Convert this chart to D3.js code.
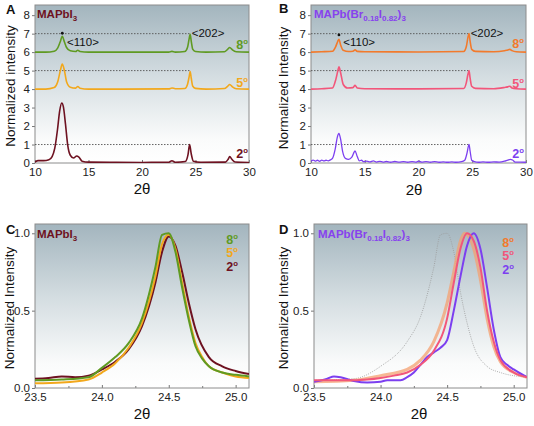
<!DOCTYPE html>
<html><head><meta charset="utf-8">
<script src="https://cdn.jsdelivr.net/npm/d3@7"></script>
<style>body{margin:0;background:#fff}svg{display:block}text{font-family:"Liberation Sans",Arial,sans-serif}</style>
</head><body><svg id="c" width="534" height="426"></svg>
<script>
// ---------- DATA ----------
const wideTicksX = [10, 15, 20, 25, 30];
const wideTicksY = [0, 1, 2, 3, 4, 5, 6, 7, 8];
const zoomTicksX = [23.5, 24.0, 24.5, 25.0];
const zoomTicksY = [0, 0.5, 1.0];
const degLabels = ["8", "5", "2"];

// Panel A: MAPbI3, offset XRD patterns
const A_8 = [[10,6.0],[11,6.0],[11.8,6.05],[12.1,6.2],[12.35,6.55],[12.55,6.85],[12.75,6.55],[12.95,6.25],[13.3,6.07],[13.8,6.03],[14.0,6.1],[14.2,6.03],[15,6.0],[18,6.0],[22.5,6.0],[22.8,6.04],[23.1,6.0],[24.0,6.03],[24.25,6.25],[24.4,6.7],[24.5,6.97],[24.6,6.6],[24.75,6.15],[25.0,6.03],[26,6.0],[27.7,6.02],[28.0,6.15],[28.2,6.25],[28.45,6.12],[28.8,6.02],[30,6.0]];
const A_5 = [[10,4.0],[11,4.0],[11.8,4.08],[12.1,4.35],[12.35,4.95],[12.55,5.35],[12.75,5.0],[12.95,4.4],[13.3,4.1],[13.8,4.05],[14.0,4.14],[14.2,4.05],[15,4.0],[18,4.0],[22.5,4.01],[22.8,4.06],[23.1,4.02],[24.0,4.03],[24.25,4.25],[24.4,4.65],[24.5,4.95],[24.6,4.6],[24.75,4.15],[25.0,4.04],[26,4.0],[27.7,4.03],[28.0,4.15],[28.2,4.25],[28.45,4.12],[28.8,4.02],[30,4.0]];
const A_2 = [[10,0.05],[10.3,0.13],[10.8,0.13],[11.3,0.18],[11.6,0.35],[11.85,0.8],[12.1,1.8],[12.3,2.8],[12.5,3.25],[12.65,3.05],[12.85,2.1],[13.05,1.0],[13.3,0.42],[13.6,0.27],[13.9,0.38],[14.1,0.32],[14.4,0.1],[15,0.05],[17,0.04],[20,0.03],[22.5,0.04],[22.8,0.12],[23.1,0.04],[24.05,0.08],[24.3,0.45],[24.45,1.0],[24.6,0.5],[24.8,0.1],[25.5,0.04],[27.8,0.05],[28.05,0.2],[28.2,0.35],[28.4,0.2],[28.7,0.05],[30,0.03]];

// Panel B: MAPb(Br0.18I0.82)3
const B_8 = [[10,6.0],[11,6.02],[12.0,6.05],[12.3,6.3],[12.5,6.6],[12.6,6.7],[12.75,6.4],[13.0,6.1],[13.5,6.03],[13.9,6.05],[14.1,6.12],[14.3,6.04],[15,6.02],[20,6.01],[24.2,6.03],[24.45,6.3],[24.6,6.8],[24.7,7.0],[24.8,6.6],[24.95,6.15],[25.3,6.04],[27,6.02],[28.0,6.07],[28.3,6.12],[28.5,6.15],[28.7,6.08],[29.1,6.02],[30,6.0]];
const B_5 = [[10,4.0],[11,4.02],[12.0,4.06],[12.3,4.5],[12.5,5.0],[12.6,5.2],[12.75,4.9],[13.0,4.25],[13.4,4.06],[13.9,4.08],[14.1,4.2],[14.3,4.06],[15,4.02],[20,4.01],[24.2,4.03],[24.45,4.35],[24.6,4.8],[24.7,5.0],[24.8,4.6],[24.95,4.15],[25.3,4.04],[27,4.02],[28.1,4.1],[28.3,4.12],[28.5,4.15],[28.7,4.06],[29.1,4.02],[30,4.0]];
const B_2 = [[10,0.1],[10.2,0.16],[10.4,0.1],[10.6,0.15],[10.8,0.09],[11.0,0.16],[11.2,0.11],[11.4,0.15],[11.6,0.12],[11.8,0.17],[12.0,0.25],[12.25,0.75],[12.45,1.4],[12.6,1.6],[12.75,1.3],[12.95,0.6],[13.2,0.25],[13.5,0.2],[13.8,0.32],[14.1,0.65],[14.3,0.35],[14.5,0.12],[14.7,0.15],[14.9,0.07],[15.2,0.1],[15.5,0.06],[15.8,0.11],[16.1,0.05],[16.4,0.09],[16.7,0.05],[17,0.08],[17.4,0.04],[17.8,0.08],[18.2,0.05],[18.6,0.07],[19,0.04],[19.4,0.07],[19.8,0.05],[20,0.1],[20.3,0.05],[20.7,0.07],[21.1,0.04],[21.5,0.07],[21.9,0.04],[22.3,0.06],[22.7,0.04],[23.1,0.06],[23.5,0.04],[24.0,0.07],[24.3,0.15],[24.5,0.5],[24.7,1.0],[24.8,0.65],[24.95,0.15],[25.2,0.07],[25.6,0.04],[26,0.06],[26.5,0.04],[27,0.06],[27.5,0.05],[28.0,0.1],[28.3,0.16],[28.55,0.2],[28.75,0.16],[29.0,0.05],[29.5,0.05],[30,0.04]];

// Panel C: zoom on <202> peak, MAPbI3
const C_8 = [[23.5,0.05],[23.7,0.055],[23.9,0.07],[24.0,0.13],[24.1,0.2],[24.2,0.29],[24.3,0.45],[24.4,0.78],[24.45,0.99],[24.5,1.0],[24.55,0.88],[24.6,0.65],[24.65,0.44],[24.7,0.27],[24.75,0.19],[24.8,0.14],[24.9,0.1],[25.0,0.085],[25.1,0.075]];
const C_5 = [[23.5,0.03],[23.7,0.035],[23.9,0.055],[24.0,0.1],[24.1,0.16],[24.2,0.26],[24.3,0.42],[24.4,0.72],[24.45,0.93],[24.5,0.99],[24.55,0.9],[24.6,0.68],[24.65,0.46],[24.7,0.29],[24.75,0.2],[24.8,0.14],[24.9,0.1],[25.0,0.075],[25.1,0.065]];
const C_2 = [[23.5,0.06],[23.6,0.065],[23.7,0.075],[23.8,0.07],[23.9,0.08],[24.0,0.12],[24.1,0.17],[24.2,0.25],[24.3,0.4],[24.4,0.68],[24.45,0.88],[24.5,0.98],[24.55,0.92],[24.6,0.75],[24.65,0.55],[24.7,0.38],[24.8,0.2],[24.9,0.14],[25.0,0.11],[25.1,0.09]];

// Panel D: zoom on <202> peak, mixed halide (grey = MAPbI3 reference)
const D_ref = [[23.5,0.05],[23.8,0.06],[24.0,0.14],[24.2,0.3],[24.3,0.46],[24.4,0.78],[24.45,0.99],[24.5,1.0],[24.55,0.88],[24.6,0.62],[24.65,0.42],[24.7,0.27],[24.8,0.14],[24.9,0.1],[25.1,0.07]];
const D_8 = [[23.5,0.04],[23.8,0.05],[24.0,0.08],[24.2,0.12],[24.3,0.18],[24.4,0.3],[24.5,0.55],[24.55,0.75],[24.6,0.95],[24.63,1.0],[24.7,0.9],[24.75,0.7],[24.8,0.45],[24.85,0.27],[24.9,0.17],[25.0,0.1],[25.1,0.07]];
const D_5 = [[23.5,0.05],[23.7,0.05],[23.8,0.05],[23.9,0.055],[24.0,0.065],[24.1,0.08],[24.2,0.1],[24.3,0.15],[24.4,0.24],[24.5,0.45],[24.55,0.68],[24.6,0.9],[24.65,1.0],[24.7,0.95],[24.75,0.78],[24.8,0.5],[24.85,0.3],[24.9,0.18],[25.0,0.1],[25.1,0.07]];
const D_2 = [[23.5,0.04],[23.6,0.06],[23.65,0.075],[23.7,0.07],[23.8,0.045],[23.9,0.035],[24.0,0.04],[24.05,0.05],[24.15,0.05],[24.2,0.07],[24.25,0.1],[24.3,0.15],[24.35,0.2],[24.4,0.23],[24.45,0.26],[24.5,0.31],[24.55,0.5],[24.6,0.72],[24.65,0.92],[24.7,1.0],[24.75,0.9],[24.8,0.65],[24.85,0.38],[24.9,0.2],[24.95,0.15],[25.0,0.12],[25.1,0.07]];

// reference lines (dotted) : level and end x
const A_refLines = [[7,24.5],[5,24.5],[1,24.45]];
const B_refLines = [[7,24.7],[5,24.7],[1,24.7]];

// ---------- DRAW ----------
const svg = d3.select("#c");
const defs = svg.append("defs");
const grad = defs.append("linearGradient").attr("id","bg").attr("x1",0).attr("y1",0).attr("x2",0).attr("y2",1);
grad.append("stop").attr("offset","0%").attr("stop-color","#a3b5be");
grad.append("stop").attr("offset","45%").attr("stop-color","#d4dde1");
grad.append("stop").attr("offset","85%").attr("stop-color","#fafbfb");
grad.append("stop").attr("offset","100%").attr("stop-color","#ffffff");

const COL = {mapi:"#6e1221", a5:"#f2a81c", a8:"#5f9a22", b8:"#f27a2c", b5:"#f2567a", b2:"#7c3ff0", btitle:"#8742ee"};

function panel(o){
  const x = d3.scaleLinear().domain(o.xd).range([o.l,o.r]);
  const y = d3.scaleLinear().domain(o.yd).range([o.b,o.t]);
  const g = svg.append("g");
  g.append("rect").attr("x",o.l).attr("y",o.t).attr("width",o.r-o.l).attr("height",o.b-o.t).attr("fill","url(#bg)");
  const clipId = "clip"+o.id;
  defs.append("clipPath").attr("id",clipId).append("rect").attr("x",o.l).attr("y",o.t).attr("width",o.r-o.l).attr("height",o.b-o.t);
  const ax = g.append("g").attr("transform",`translate(0,${o.b})`).call(d3.axisBottom(x).tickValues(o.xt).tickFormat(o.xf).tickSize(-3).tickPadding(5));
  const ay = g.append("g").attr("transform",`translate(${o.l},0)`).call(d3.axisLeft(y).tickValues(o.yt).tickFormat(o.yf).tickSize(3).tickPadding(2));
  [ax,ay].forEach(a=>{a.select(".domain").remove();a.selectAll("line").attr("stroke","#777");a.selectAll("text").attr("font-size",11.5).attr("fill","#222").attr("font-family",'"Liberation Sans",Arial,sans-serif');});
  if(o.minor){
    const mx = d3.range(o.xt.length-1).map(i=>(o.xt[i]+o.xt[i+1])/2).concat([o.xt[o.xt.length-1]+ (o.xt[1]-o.xt[0])/2]).filter(v=>v<o.xd[1]);
    g.append("g").attr("transform",`translate(0,${o.b})`).call(d3.axisBottom(x).tickValues(mx).tickFormat("").tickSize(-2)).call(a=>{a.select(".domain").remove();a.selectAll("line").attr("stroke","#777");});
  }
  g.append("rect").attr("x",o.l).attr("y",o.t).attr("width",o.r-o.l).attr("height",o.b-o.t).attr("fill","none").attr("stroke","#8c8c8c").attr("stroke-width",1);
  g.append("text").attr("transform",`translate(${o.ytx},${o.yty}) rotate(-90)`).attr("text-anchor","middle").attr("dominant-baseline","central").attr("font-size",13.5).attr("fill","#111").text(o.ytitle);
  g.append("text").attr("x",o.xtx).attr("y",o.xty).attr("text-anchor","middle").attr("dominant-baseline","central").attr("font-size",15).attr("fill","#111").text("2θ");
  g.append("text").attr("x",o.lx).attr("y",o.ly).attr("font-size",13).attr("font-weight","bold").attr("fill","#111").text(o.letter);
  const cg = g.append("g").attr("clip-path",`url(#${clipId})`);
  return {x,y,g,cg};
}

function title(g, x, y, parts, color){
  const t = g.append("text").attr("x",x).attr("y",y).attr("font-size",11.5).attr("font-weight","bold").attr("fill",color);
  parts.forEach(p=>{
    const s = t.append("tspan").text(p[0]);
    if(p[1]) s.attr("font-size",8).attr("baseline-shift","-3");
  });
}
function deg(g, x, y, n, color, size){
  const t = g.append("text").attr("x",x).attr("y",y).attr("text-anchor","end").attr("font-size",size||12.5).attr("font-weight","bold").attr("fill",color);
  t.append("tspan").text(n);
  t.append("tspan").text("o").attr("font-size",(size||12.5)*0.62).attr("baseline-shift","5");
}

const curve = d3.curveMonotoneX;
function drawLine(P, data, color, w, extra){
  const ln = d3.line().x(d=>P.x(d[0])).y(d=>P.y(d[1])).curve(curve);
  const p = P.cg.append("path").datum(data).attr("d",ln).attr("fill","none").attr("stroke",color).attr("stroke-width",w).attr("stroke-linejoin","round");
  if(extra) extra(p);
  return p;
}

const PA = panel({id:"A",l:35,r:249,t:5,b:163,xd:[10,30],yd:[0,8.55],xt:wideTicksX,yt:wideTicksY,xf:d3.format("d"),yf:d3.format("d"),
  ytitle:"Normalized intensity",ytx:10,yty:86,xtx:142,xty:188,letter:"A",lx:6,ly:14});
const PB = panel({id:"B",l:311,r:526,t:5,b:163,xd:[10,30],yd:[0,8.55],xt:wideTicksX,yt:wideTicksY,xf:d3.format("d"),yf:d3.format("d"),
  ytitle:"Normalized Intensity",ytx:283,yty:88,xtx:414,xty:189,letter:"B",lx:279,ly:13});
const PC = panel({id:"C",l:35,r:249,t:224,b:388,xd:[23.5,25.1],yd:[0,1.06],xt:zoomTicksX,yt:zoomTicksY,xf:d3.format(".1f"),yf:d3.format(".1f"),minor:true,
  ytitle:"Normalized Intensity",ytx:9,yty:308,xtx:142,xty:413,letter:"C",lx:6,ly:234});
const PD = panel({id:"D",l:314,r:527,t:224,b:388,xd:[23.5,25.1],yd:[0,1.06],xt:zoomTicksX,yt:zoomTicksY,xf:d3.format(".1f"),yf:d3.format(".1f"),minor:true,
  ytitle:"Normalized Intensity",ytx:283,yty:308,xtx:419,xty:413,letter:"D",lx:279,ly:234});

function refLines(P, lines){
  P.cg.selectAll(null).data(lines).join("line")
    .attr("x1",P.x(P.x.domain()[0])).attr("x2",d=>P.x(d[1])).attr("y1",d=>P.y(d[0])).attr("y2",d=>P.y(d[0]))
    .attr("stroke","#555").attr("stroke-width",0.9).attr("stroke-dasharray","1.5,1.5");
}
refLines(PA, A_refLines);
refLines(PB, B_refLines);

drawLine(PA, A_8, COL.a8, 1.6);
drawLine(PA, A_5, COL.a5, 1.6);
drawLine(PA, A_2, COL.mapi, 1.6);
drawLine(PB, B_8, COL.b8, 1.6);
drawLine(PB, B_5, COL.b5, 1.6);
drawLine(PB, B_2, COL.b2, 1.3);

PA.g.append("circle").attr("cx",PA.x(12.55)).attr("cy",PA.y(7.02)).attr("r",1.4).attr("fill","#111");
PB.g.append("circle").attr("cx",PB.x(12.6)).attr("cy",PB.y(6.93)).attr("r",1.4).attr("fill","#111");
[[PA,13.0,6.55,"<110>"],[PA,24.65,7.05,"<202>"],[PB,13.0,6.55,"<110>"],[PB,24.85,7.05,"<202>"]].forEach(d=>{
  d[0].g.append("text").attr("x",d[0].x(d[1])).attr("y",d[0].y(d[2])).attr("dominant-baseline","central").attr("font-size",11.5).attr("fill","#111").text(d[3]);
});

drawLine(PC, C_2, COL.mapi, 2);
drawLine(PC, C_5, COL.a5, 2);
drawLine(PC, C_8, COL.a8, 2);
drawLine(PD, D_ref, "#9a9a9a", 0.8, p=>p.attr("stroke-dasharray","1,1.2"));
drawLine(PD, D_8, "#f4a070", 3, p=>p.attr("stroke-opacity",0.75));
drawLine(PD, D_2, COL.b2, 2);
drawLine(PD, D_5, COL.b5, 2);

title(PA.g, 37, 18, [["MAPbI"],["3",1]], COL.mapi);
title(PB.g, 314, 18, [["MAPb(Br"],["0.18",1],["I"],["0.82",1],[")"],["3",1]], COL.btitle);
title(PC.g, 37, 238, [["MAPbI"],["3",1]], COL.mapi);
title(PD.g, 318, 238, [["MAPb(Br"],["0.18",1],["I"],["0.82",1],[")"],["3",1]], COL.btitle);

const aCols = [COL.a8, COL.a5, COL.mapi], bCols = [COL.b8, COL.b5, COL.b2];
[49, 87, 158].forEach((yy,i)=>deg(PA.g, 248, yy, degLabels[i], aCols[i]));
[48, 88, 158].forEach((yy,i)=>deg(PB.g, 524, yy, degLabels[i], bCols[i]));
[244, 257, 271].forEach((yy,i)=>deg(PC.g, 238, yy, degLabels[i], aCols[i]));
[247, 260, 274].forEach((yy,i)=>deg(PD.g, 514, yy, degLabels[i], bCols[i]));
</script></body></html>
